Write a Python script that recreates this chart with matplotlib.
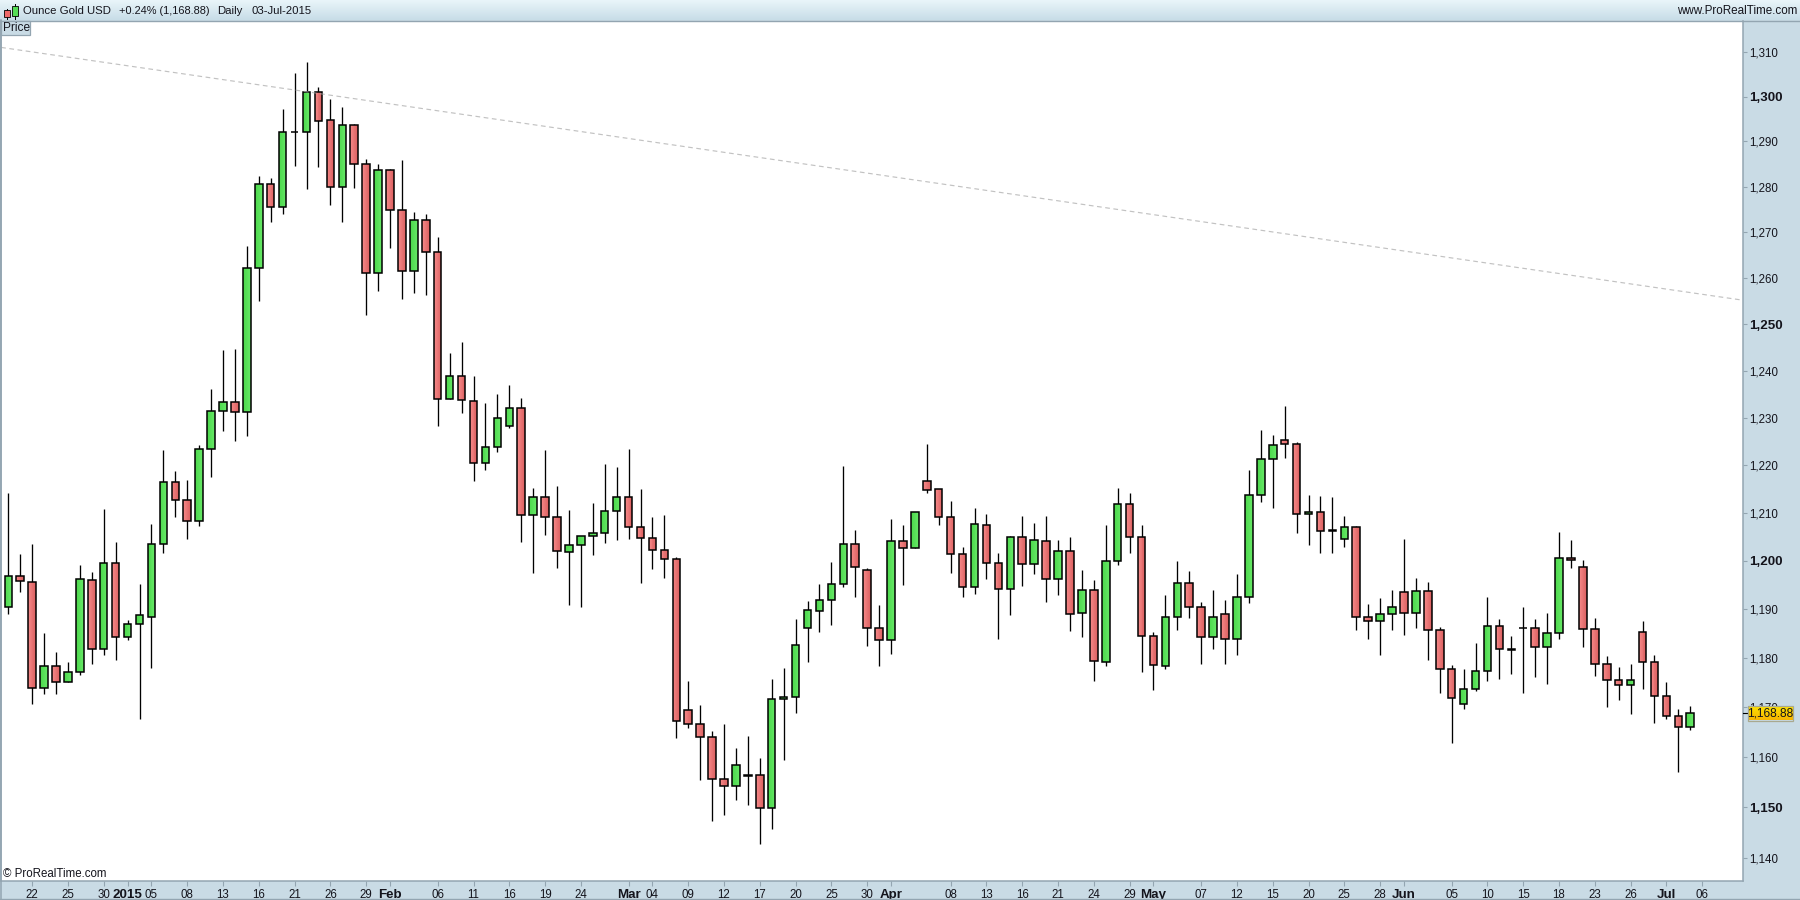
import numpy as np
import matplotlib
matplotlib.use("Agg")
import matplotlib.pyplot as plt
from matplotlib.patches import Rectangle
from matplotlib.ticker import NullLocator

plt.rcParams['font.family'] = ['Liberation Sans', 'DejaVu Sans']

W, H = 1800, 900
PANEL = '#c9dbe5'
BORDER = '#93a5b1'
TEXT = '#14141c'

opens = [1190.4, 1196.8, 1195.6, 1173.9, 1178.4, 1175.1, 1177.2, 1196.0, 1181.8, 1199.5,
         1184.3, 1186.9, 1188.4, 1203.4, 1216.4, 1212.6, 1208.2, 1223.3, 1231.3, 1233.3,
         1231.1, 1262.1, 1280.5, 1275.6, 1292.0, 1292.0, 1301.0, 1294.7, 1280.0, 1293.6,
         1285.1, 1261.0, 1283.6, 1274.8, 1261.6, 1272.6, 1265.6, 1233.9, 1238.8, 1233.5,
         1220.5, 1223.7, 1228.2, 1232.0, 1209.5, 1213.2, 1209.0, 1201.8, 1203.2, 1205.1,
         1205.7, 1210.3, 1213.2, 1207.0, 1204.7, 1202.2, 1200.3, 1169.5, 1166.6, 1164.0,
         1155.6, 1154.2, 1156.3, 1156.4, 1149.9, 1171.7, 1172.1, 1186.1, 1189.6, 1191.9,
         1195.2, 1203.4, 1198.0, 1186.1, 1183.7, 1204.1, 1202.6, 1216.6, 1214.9, 1209.0,
         1201.4, 1194.5, 1207.4, 1199.5, 1194.1, 1204.9, 1199.3, 1204.1, 1196.2, 1202.0,
         1189.2, 1193.9, 1179.2, 1199.9, 1211.8, 1204.9, 1184.5, 1178.4, 1188.4, 1195.4,
         1190.4, 1184.3, 1189.0, 1183.9, 1192.5, 1213.6, 1221.2, 1225.2, 1224.4, 1209.7,
         1210.1, 1206.3, 1204.5, 1207.0, 1188.4, 1187.6, 1189.0, 1193.5, 1189.2, 1193.7,
         1185.7, 1177.8, 1170.7, 1173.7, 1177.4, 1186.5, 1181.8, 1186.1, 1186.1, 1182.2,
         1185.1, 1200.5, 1198.7, 1185.9, 1178.8, 1175.5, 1174.5, 1185.3, 1179.2, 1172.3,
         1168.3, 1166.0]

closes = [1196.8, 1195.8, 1173.9, 1178.4, 1175.1, 1177.2, 1196.2, 1181.8, 1199.5, 1184.3,
          1186.9, 1188.8, 1203.4, 1216.4, 1212.6, 1208.2, 1223.3, 1231.3, 1233.3, 1231.1,
          1262.1, 1280.5, 1275.6, 1292.2, 1292.2, 1301.0, 1294.5, 1280.0, 1293.6, 1285.1,
          1261.0, 1283.6, 1274.8, 1261.6, 1272.6, 1265.6, 1233.9, 1238.8, 1233.7, 1220.5,
          1223.7, 1229.9, 1232.0, 1209.5, 1213.2, 1209.0, 1202.0, 1203.2, 1205.1, 1205.7,
          1210.3, 1213.2, 1207.0, 1204.7, 1202.2, 1200.3, 1167.2, 1166.6, 1164.0, 1155.6,
          1154.2, 1158.4, 1156.4, 1149.9, 1171.7, 1172.1, 1182.7, 1189.8, 1191.9, 1195.2,
          1203.4, 1198.7, 1186.1, 1183.7, 1204.1, 1202.6, 1210.1, 1214.7, 1209.0, 1201.4,
          1194.5, 1207.6, 1199.5, 1194.1, 1204.9, 1199.3, 1204.3, 1196.2, 1202.0, 1189.0,
          1193.9, 1179.4, 1199.9, 1211.8, 1204.9, 1184.5, 1178.6, 1188.4, 1195.4, 1190.4,
          1184.3, 1188.4, 1183.9, 1192.5, 1213.6, 1221.2, 1224.1, 1224.4, 1209.7, 1210.1,
          1206.1, 1206.1, 1207.0, 1188.4, 1187.6, 1189.0, 1190.4, 1189.2, 1193.7, 1185.7,
          1177.8, 1171.9, 1173.7, 1177.4, 1186.5, 1181.8, 1181.6, 1186.1, 1182.2, 1185.1,
          1200.5, 1200.1, 1185.9, 1178.8, 1175.5, 1174.5, 1175.5, 1179.2, 1172.3, 1168.3,
          1166.0, 1168.9]

highs = [1214.1, 1201.4, 1203.5, 1185.2, 1181.3, 1179.2, 1199.1, 1197.7, 1210.8, 1203.9,
         1187.8, 1195.2, 1207.7, 1223.1, 1218.7, 1216.8, 1224.2, 1236.1, 1244.4, 1244.6,
         1266.9, 1282.3, 1281.9, 1297.2, 1305.3, 1307.8, 1302.2, 1299.5, 1297.7, 1293.8,
         1286.1, 1285.0, 1283.8, 1285.9, 1274.4, 1274.0, 1268.9, 1243.7, 1246.1, 1238.8,
         1233.1, 1235.0, 1236.9, 1234.2, 1215.2, 1223.1, 1215.6, 1210.6, 1205.1, 1212.0,
         1220.2, 1219.6, 1223.4, 1215.0, 1209.1, 1209.5, 1200.7, 1175.4, 1170.5, 1165.2,
         1166.6, 1161.8, 1164.2, 1159.8, 1175.8, 1178.0, 1188.0, 1191.7, 1195.2, 1199.8,
         1219.8, 1206.4, 1198.5, 1190.9, 1208.7, 1207.4, 1210.1, 1224.4, 1214.9, 1212.4,
         1202.9, 1211.0, 1209.7, 1201.6, 1205.1, 1209.3, 1207.9, 1209.3, 1204.3, 1204.9,
         1198.1, 1196.0, 1207.4, 1215.2, 1214.1, 1207.4, 1185.4, 1192.9, 1200.0, 1197.9,
         1191.5, 1194.0, 1191.9, 1197.3, 1218.9, 1227.4, 1226.3, 1232.5, 1224.8, 1213.7,
         1213.5, 1213.3, 1209.3, 1207.2, 1191.0, 1192.3, 1194.0, 1204.5, 1196.4, 1195.6,
         1186.3, 1178.6, 1177.8, 1183.1, 1192.5, 1188.0, 1184.5, 1190.4, 1188.0, 1189.2,
         1205.9, 1204.3, 1200.1, 1188.2, 1180.4, 1178.2, 1178.8, 1187.6, 1180.6, 1175.1,
         1169.7, 1170.3]

lows = [1189.1, 1193.6, 1170.8, 1172.7, 1172.8, 1175.1, 1176.6, 1178.9, 1180.7, 1179.7,
        1183.8, 1167.7, 1177.9, 1201.7, 1209.0, 1204.6, 1207.3, 1217.5, 1227.2, 1225.1,
        1226.0, 1255.0, 1272.3, 1274.0, 1284.6, 1279.5, 1284.4, 1276.0, 1272.3, 1279.7,
        1252.0, 1257.2, 1266.6, 1255.5, 1256.8, 1256.3, 1228.3, 1233.9, 1231.0, 1216.7,
        1219.0, 1222.8, 1227.7, 1203.8, 1197.5, 1205.4, 1198.4, 1190.9, 1190.5, 1201.1,
        1203.6, 1204.4, 1204.6, 1195.5, 1198.2, 1196.5, 1163.8, 1165.8, 1155.4, 1147.4,
        1148.6, 1151.4, 1150.4, 1142.7, 1145.8, 1159.5, 1168.8, 1179.3, 1185.4, 1186.7,
        1194.5, 1192.6, 1182.4, 1178.5, 1180.9, 1194.9, 1202.6, 1214.0, 1207.5, 1197.5,
        1192.6, 1193.2, 1196.3, 1184.0, 1188.9, 1194.7, 1197.3, 1191.4, 1193.0, 1185.6,
        1184.4, 1175.3, 1178.5, 1199.2, 1201.5, 1177.1, 1173.6, 1177.7, 1185.8, 1188.3,
        1178.9, 1181.8, 1178.9, 1180.7, 1191.2, 1212.3, 1211.0, 1221.5, 1205.8, 1203.3,
        1201.5, 1201.5, 1202.9, 1185.7, 1183.9, 1180.6, 1185.7, 1184.7, 1186.1, 1179.6,
        1172.9, 1162.8, 1169.7, 1173.3, 1175.3, 1175.7, 1176.8, 1172.9, 1176.1, 1174.7,
        1184.0, 1198.4, 1182.2, 1176.3, 1170.2, 1171.6, 1168.7, 1173.8, 1166.8, 1167.7,
        1157.0, 1165.4]

date_ticks = [2, 5, 8, 10, 12, 15, 18, 21, 24, 27, 30, 32, 36, 39, 42, 45, 48, 52, 54, 57,
              60, 63, 66, 69, 72, 74, 79, 82, 85, 88, 91, 94, 96, 100, 103, 106, 109, 112,
              115, 117, 121, 124, 127, 130, 133, 136, 139, 142]
date_labels = ['22', '25', '30', '2015', '05', '08', '13', '16', '21', '26', '29', 'Feb', '06',
               '11', '16', '19', '24', 'Mar', '04', '09', '12', '17', '20', '25', '30', 'Apr',
               '08', '13', '16', '21', '24', '29', 'May', '07', '12', '15', '20', '25', '28',
               'Jun', '05', '10', '15', '18', '23', '26', 'Jul', '06']
major_labels = ['2015', 'Feb', 'Mar', 'Apr', 'May', 'Jun', 'Jul']

price_ticks = [1140, 1150, 1160, 1170, 1180, 1190, 1200, 1210, 1220,
               1230, 1240, 1250, 1260, 1270, 1280, 1290, 1300, 1310]
major_prices = [1150, 1200, 1250, 1300]

trend_x = [-0.6, 145.3]
trend_y = [1311.1, 1255.2]
last_price = 1168.88


def px_axes(x0, y0, x1, y1, **kw):
    # axes from pixel box, y measured from the top of the picture
    return fig.add_axes([x0 / W, 1 - y1 / H, (x1 - x0) / W, (y1 - y0) / H], **kw)


def gradient(box, c_top, c_bottom, zorder=1):
    a = px_axes(*box, zorder=zorder)
    top = np.array(matplotlib.colors.to_rgb(c_top))
    bottom = np.array(matplotlib.colors.to_rgb(c_bottom))
    ramp = np.linspace(0, 1, 24)[:, None, None] * (bottom - top)[None, None, :] + top
    a.imshow(ramp, aspect='auto', extent=[box[0], box[2], box[3], box[1]])
    a.axis('off')
    return a


def put(x, y, s, **kw):
    kw.setdefault('color', TEXT)
    kw.setdefault('va', 'center')
    return fig.text(x / W, 1 - y / H, s, **kw)


fig = plt.figure(figsize=(18, 9), dpi=100, facecolor=PANEL)

ax = px_axes(1, 20.5, 1742.5, 880.5, facecolor='white', zorder=2)
ax.set_yscale('log')

x = np.arange(len(opens))
o = np.array(opens)
c = np.array(closes)
up = c >= o
bottom = np.minimum(o, c)
height = np.abs(c - o)

ax.vlines(x, lows, highs, color='black', lw=0.95, zorder=2)

# bodies are shaded left to right with narrow strips, outline goes on top
strips = 8
body_w = 0.63
red_shades = np.linspace(0, 1, strips)
for k in range(strips):
    off = (k + 0.5) / strips * body_w - body_w / 2
    t = red_shades[k]
    red = np.array([0.96, 0.53, 0.53]) * (1 - t) + np.array([0.86, 0.38, 0.38]) * t
    green = np.array([0.30, 0.85, 0.30]) * (1 - t) + np.array([0.40, 0.91, 0.40]) * t
    ax.bar(x[up] + off, height[up], body_w / strips, bottom=bottom[up], color=green, lw=0, zorder=3)
    ax.bar(x[~up] + off, height[~up], body_w / strips, bottom=bottom[~up], color=red, lw=0, zorder=3)
ax.bar(x, height, body_w, bottom=bottom, fill=False, edgecolor='black', lw=1.1, zorder=4)

ax.plot(trend_x, trend_y, color='#a8a8a8', alpha=0.7, lw=0.85, dashes=(4.0, 3.0), zorder=5)

ax.set_xlim(-0.612, 145.38)
ax.set_ylim(1135.6, 1317.2)

ax.set_xticks(date_ticks)
ax.set_xticklabels(date_labels)
ax.yaxis.tick_right()
ax.set_yticks(price_ticks)
ax.set_yticklabels([f'{p:,}' for p in price_ticks])
ax.yaxis.set_minor_locator(NullLocator())
ax.tick_params(axis='x', length=3.5, width=0.8, color=BORDER, pad=2.6, labelsize=8.3, labelcolor=TEXT)
ax.tick_params(axis='y', length=3.2, width=0.8, color=BORDER, pad=1.8, labelsize=8.3, labelcolor=TEXT)
for lab in ax.get_xticklabels():
    if lab.get_text() in major_labels:
        lab.set_fontweight('bold')
        lab.set_fontsize(9.6)
for lab, p in zip(ax.get_yticklabels(), price_ticks):
    if p in major_prices:
        lab.set_fontweight('bold')
        lab.set_fontsize(9.6)
for side in ax.spines.values():
    side.set_color(BORDER)
    side.set_linewidth(1.1)
ax.spines['top'].set_visible(False)
ax.plot([1, 1.0027], [last_price, last_price], color='black', lw=0.8,
        transform=ax.get_yaxis_transform(), clip_on=False, zorder=6)

put(3, 874, '\u00a9 ProRealTime.com', fontsize=8.3, zorder=6)

# header strip
head = gradient((0, 0, W, 20), '#e9f5fa', '#c8dde7', zorder=3)
put(23, 11, 'Ounce Gold USD', fontsize=8.2, zorder=6)
put(119, 11, '+0.24% (1,168.88)', fontsize=7.9, zorder=6)
put(217, 11, 'Daily', fontsize=8.2, zorder=6)
put(251, 11, '03-Jul-2015', fontsize=8.2, zorder=6)
put(1797, 11, 'www.ProRealTime.com', fontsize=8.4, ha='right', zorder=6)
fig.add_artist(plt.Line2D([0, 1], [1 - 20.5 / H] * 2, color=BORDER, lw=1.0, zorder=4))

# header icon: one small red and one small green candle
for cx, y0, y1, wick0, wick1, col in [(6.5, 10, 17, 8.5, 19, '#ee6a6a'), (14.5, 6, 16, 3.5, 19, '#55dd55')]:
    fig.add_artist(plt.Line2D([cx / W] * 2, [1 - wick0 / H, 1 - wick1 / H], color='black', lw=0.7, zorder=5))
    fig.add_artist(Rectangle(((cx - 3) / W, 1 - y1 / H), 6 / W, (y1 - y0) / H, transform=fig.transFigure,
                             facecolor=col, edgecolor='black', lw=0.6, zorder=5))

# "Price" tab below the header
fig.add_artist(Rectangle((1 / W, 1 - 34.5 / H), 28.5 / W, 14 / H, transform=fig.transFigure,
                         facecolor=PANEL, edgecolor=BORDER, lw=0.9, zorder=5))
put(3.5, 28, 'Price', fontsize=8.6, zorder=6)

# outer frame of the picture
fig.add_artist(plt.Line2D([0, 1], [1 - 898.8 / H] * 2, color=BORDER, lw=1.0, zorder=4))
fig.add_artist(plt.Line2D([0.6 / W] * 2, [0, 1 - 20 / H], color=BORDER, lw=1.1, zorder=4))

# last price flag over the axis
flag = gradient((1747.5, 706, 1792.5, 720.5), '#ffe600', '#f7b500', zorder=5)
fig.add_artist(Rectangle((1747.5 / W, 1 - 720.5 / H), 45 / W, 14.5 / H, transform=fig.transFigure,
                         fill=False, edgecolor='#a9a98f', lw=0.9, zorder=6))
put(1770, 713.4, f'{last_price:,.2f}', fontsize=8.6, ha='center', zorder=7)

fig.savefig('out.png', dpi=100, facecolor=PANEL)
